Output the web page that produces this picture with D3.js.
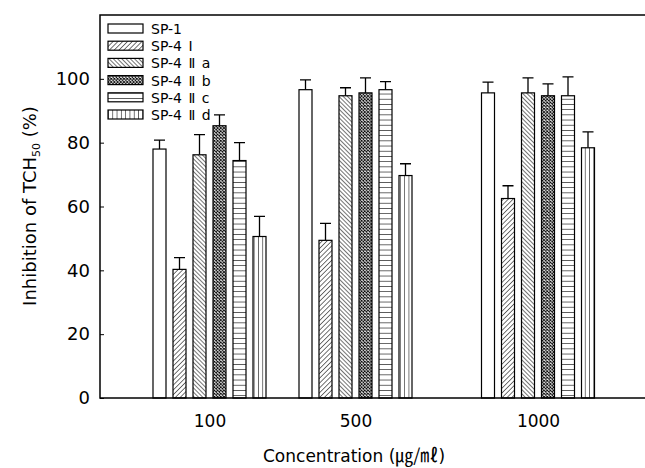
<!DOCTYPE html>
<html>
<head>
<meta charset="utf-8">
<script src="https://cdn.jsdelivr.net/npm/d3@7"></script>
<style>
  body { margin: 0; background: #fff; }
  text { font-family: "DejaVu Sans", sans-serif; fill: #000; }
</style>
</head>
<body>
<div id="chart"></div>
<script>
// Datos
const concentrations = [100, 500, 1000];
const seriesNames = ["SP-1", "SP-4 Ⅰ", "SP-4 Ⅱ a", "SP-4 Ⅱ b", "SP-4 Ⅱ c", "SP-4 Ⅱ d"];
const sp1 = [78, 96.6, 95.6];
const sp4I = [40.3, 49.4, 62.5];
const sp4IIa = [76.2, 94.7, 95.6];
const sp4IIb = [85.3, 95.6, 94.7];
const sp4IIc = [74.4, 96.6, 94.7];
const sp4IId = [50.6, 69.7, 78.4];
const sp1Err = [2.8, 3.1, 3.4];
const sp4IErr = [3.7, 5.3, 4];
const sp4IIaErr = [6.3, 2.5, 4.7];
const sp4IIbErr = [3.4, 4.7, 3.7];
const sp4IIcErr = [5.6, 2.5, 5.9];
const sp4IIdErr = [6.3, 3.7, 5];
const yTicks = [0, 20, 40, 60, 80, 100];

const means = [sp1, sp4I, sp4IIa, sp4IIb, sp4IIc, sp4IId];
const errs = [sp1Err, sp4IErr, sp4IIaErr, sp4IIbErr, sp4IIcErr, sp4IIdErr];
const patternIds = ["p-empty", "p-fwd", "p-back", "p-cross", "p-horiz", "p-vert"];

const width = 645, height = 468;
const margin = { left: 100, top: 15, bottom: 70 };
const plotRight = 647.5;

const svg = d3.select('#chart').append('svg')
    .attr('width', width)
    .attr('height', height);

// Patrones de relleno
const defs = svg.append('defs');
function linePattern(id, size, angle, sw) {
    const p = defs.append('pattern')
        .attr('id', id)
        .attr('patternUnits', 'userSpaceOnUse')
        .attr('width', size).attr('height', size)
        .attr('patternTransform', `rotate(${angle})`);
    p.append('rect').attr('width', size).attr('height', size).attr('fill', '#fff');
    p.append('line')
        .attr('x1', 0).attr('y1', 0).attr('x2', 0).attr('y2', size)
        .attr('stroke', '#000').attr('stroke-width', sw);
}
defs.append('pattern').attr('id', 'p-empty')
    .attr('patternUnits', 'userSpaceOnUse').attr('width', 4).attr('height', 4)
    .append('rect').attr('width', 4).attr('height', 4).attr('fill', '#fff');
linePattern('p-fwd', 3.4, 45, 1.1);
linePattern('p-back', 3.0, -45, 1.1);
linePattern('p-horiz', 5.2, 90, 1.2);
linePattern('p-vert', 4.3, 0, 1.1);
const cross = defs.append('pattern').attr('id', 'p-cross')
    .attr('patternUnits', 'userSpaceOnUse').attr('width', 3.2).attr('height', 3.2);
cross.append('rect').attr('width', 3.2).attr('height', 3.2).attr('fill', '#fff');
cross.append('path').attr('d', 'M0,0L3.2,3.2M3.2,0L0,3.2').attr('stroke', '#000').attr('stroke-width', 0.9);

// Escalas
const x = d3.scaleLinear().domain([-200, 1300]).range([margin.left, plotRight]);
const inner = d3.scaleBand().domain(seriesNames).range([-56.5, 56.5]).paddingInner(0.35).paddingOuter(0);
const y = d3.scaleLinear().domain([0, 120]).range([height - margin.bottom, margin.top]);

// Barras
const bars = [];
seriesNames.forEach((s, si) => {
    concentrations.forEach((c, ci) => {
        bars.push({ s, si, c, v: means[si][ci], e: errs[si][ci] });
    });
});

const g = svg.append('g');
// Barras de error
g.selectAll('.err').data(bars).enter().append('path')
    .attr('class', 'err')
    .attr('fill', 'none').attr('stroke', '#000').attr('stroke-width', 1.3)
    .attr('d', d => {
        const cx = x(d.c) + inner(d.s) + inner.bandwidth() / 2;
        const y0 = y(d.v), y1 = y(d.v + d.e);
        return `M${cx},${y0}V${y1}M${cx - 5.5},${y1}H${cx + 5.5}`;
    });
g.selectAll('.bar').data(bars).enter().append('rect')
    .attr('class', 'bar')
    .attr('x', d => x(d.c) + inner(d.s))
    .attr('y', d => y(d.v))
    .attr('width', inner.bandwidth())
    .attr('height', d => y(0) - y(d.v))
    .attr('fill', d => `url(#${patternIds[d.si]})`)
    .attr('stroke', '#000').attr('stroke-width', 1.2);

// Marco
svg.append('rect')
    .attr('x', margin.left).attr('y', margin.top)
    .attr('width', plotRight - margin.left).attr('height', y(0) - margin.top)
    .attr('fill', 'none').attr('stroke', '#000').attr('stroke-width', 1.5);

// Ejes
const yAxis = svg.append('g')
    .attr('transform', `translate(${margin.left},0)`)
    .call(d3.axisLeft(y).tickValues(yTicks).tickSize(-4).tickPadding(10));
yAxis.select('.domain').remove();
yAxis.selectAll('text').style('font-size', '18px');

const xAxis = svg.append('g')
    .attr('transform', `translate(0,${y(0)})`)
    .call(d3.axisBottom(x).tickValues(concentrations).tickFormat(d3.format('d')).tickSize(0).tickPadding(17));
xAxis.select('.domain').remove();
xAxis.selectAll('text').style('font-size', '17px');

// Títulos
const yTitle = svg.append('text')
    .attr('transform', `translate(36,206) rotate(-90)`)
    .attr('text-anchor', 'middle')
    .style('font-size', '18px');
yTitle.append('tspan').text('Inhibition of TCH');
yTitle.append('tspan').attr('dy', 4).style('font-size', '11px').text('50');
yTitle.append('tspan').attr('dy', -4).text(' (%)');

const xTitle = svg.append('text')
    .attr('x', 263).attr('y', 462)
    .style('font-size', '17px');
xTitle.append('tspan').text('Concentration (');
xTitle.append('tspan').style('font-family', '"Noto Sans CJK KR", sans-serif').style('font-size', '18px').text('㎍/㎖');
xTitle.append('tspan').text(')');

// Leyenda
const legend = svg.append('g').attr('transform', 'translate(108,24)');
const item = legend.selectAll('g').data(seriesNames).enter().append('g')
    .attr('transform', (d, i) => `translate(0,${i * 17.2})`);
item.append('rect')
    .attr('width', 35).attr('height', 9)
    .attr('fill', (d, i) => `url(#${patternIds[i]})`)
    .attr('stroke', '#000').attr('stroke-width', 1.2);
item.append('text')
    .attr('x', 43).attr('y', 10)
    .style('font-size', '14px')
    .style('word-spacing', '2px')
    .text(d => d);
</script>
</body>
</html>
